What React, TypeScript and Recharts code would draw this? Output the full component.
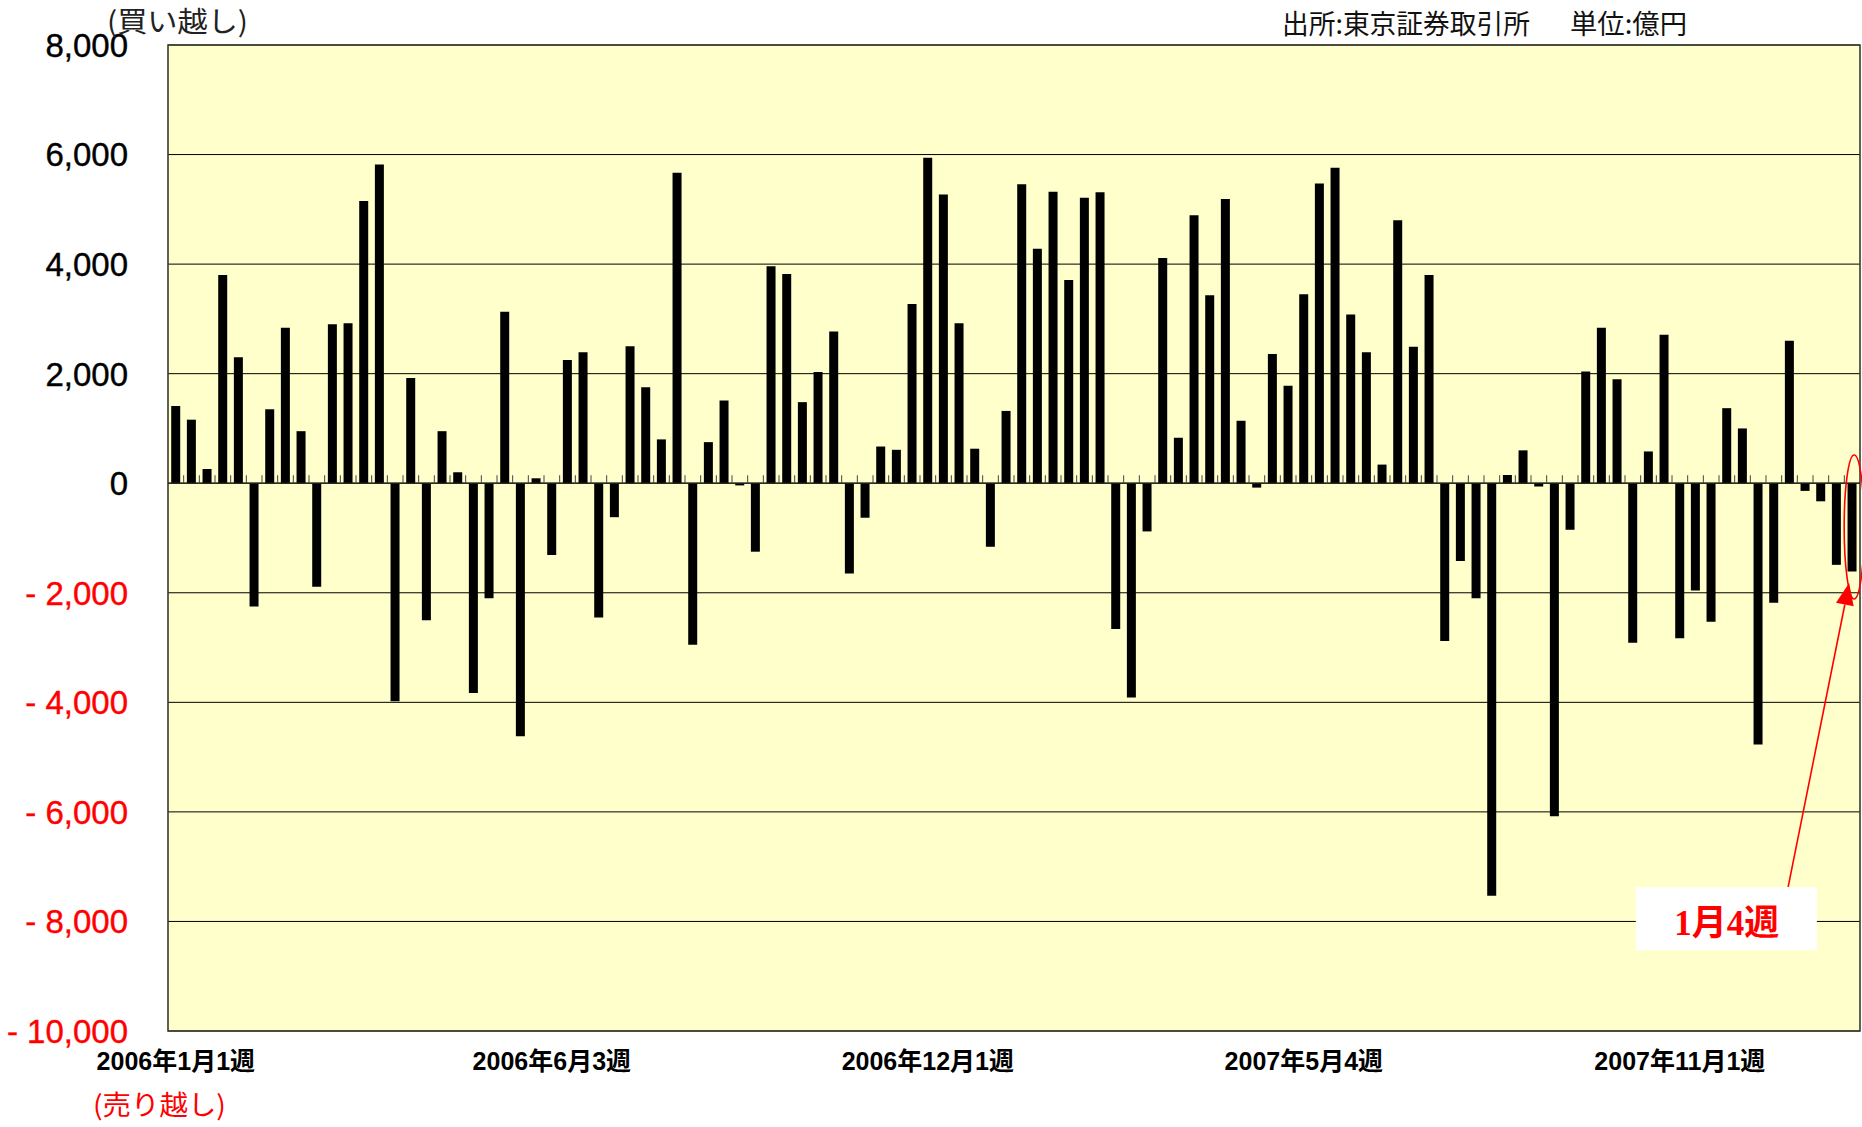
import React from 'react';
import {
  BarChart,
  Bar,
  XAxis,
  YAxis,
  CartesianGrid,
  ReferenceLine,
  ReferenceArea,
  ReferenceDot,
} from 'recharts';

// Weekly net buying (億円), grouped by the labelled segments
const SEG_2006_01W1 = [
  1410, 1160, 260, 3800, 2300, -2250, 1350, 2840, 950, -1890, 2900, 2920,
  5150, 5820, -3980, 1920, -2500, 950, 200, -3830, -2100, 3130, -4620, 90,
];
const SEG_2006_06W3 = [
  -1310, 2250, 2390, -2450, -620, 2500, 1750, 800, 5670, -2950, 750, 1510,
  -40, -1250, 3960, 3820, 1480, 2030, 2770, -1650, -630, 670, 610, 3270,
];
const SEG_2006_12W1 = [
  5940, 5270, 2920, 630, -1160, 1320, 5460, 4280, 5320, 3710, 5210, 5310,
  -2660, -3910, -880, 4110, 830, 4890, 3430, 5190, 1140, -80, 2360, 1780,
];
const SEG_2007_05W4 = [
  3450, 5470, 5760, 3080, 2390, 340, 4800, 2490, 3800, -2880, -1420, -2100,
  -7530, 150, 600, -60, -6080, -850, 2040, 2840, 1900, -2910, 580, 2710,
];
const SEG_2007_11W1 = [
  -2830, -1960, -2530, 1370, 1000, -4770, -2180, 2600, -140, -330, -1490, -1610,
];

const NET = [
  ...SEG_2006_01W1,
  ...SEG_2006_06W3,
  ...SEG_2006_12W1,
  ...SEG_2007_05W4,
  ...SEG_2007_11W1,
];

// category = week number in the series (1-based)
const WEEKS = NET.map((_, i) => i + 1);

const X_TICK_WEEKS = [1, 25, 49, 73, 97];
const X_TICK_LABELS = ['2006年1月1週', '2006年6月3週', '2006年12月1週', '2007年5月4週', '2007年11月1週'];
const Y_TICKS = [8000, 6000, 4000, 2000, 0, -2000, -4000, -6000, -8000, -10000];

const LAST_WEEK = WEEKS[WEEKS.length - 1];
const LAST_VALUE = NET[NET.length - 1];

const data = WEEKS.map((w, i) => ({ week: w, value: NET[i] }));

const SANS = "'Liberation Sans', Arial, 'Noto Sans CJK JP', sans-serif";
const CJK = "'Noto Sans CJK JP', 'Noto Sans', sans-serif";

const fmtY = (v: number) => (v < 0 ? '- ' + Math.abs(v).toLocaleString('en-US') : v.toLocaleString('en-US'));

const YTick = (props: any) => {
  const { x, y, payload } = props;
  const v = payload.value as number;
  return (
    <text
      x={x}
      y={y}
      dy="0.36em"
      textAnchor="end"
      fill={v < 0 ? '#FF0000' : '#000000'}
      fontSize={33}
      fontFamily={SANS}
      stroke={v < 0 ? '#FF0000' : '#000000'}
      strokeWidth={0.4}
    >
      {fmtY(v)}
    </text>
  );
};

const XTick = (props: any) => {
  const { x, y, payload } = props;
  const idx = X_TICK_WEEKS.indexOf(payload.value);
  return (
    <text
      x={x}
      y={y}
      dy="0.71em"
      textAnchor="middle"
      fill="#000"
      fontSize={25}
      fontWeight="bold"
      fontFamily={SANS}
    >
      {idx >= 0 ? X_TICK_LABELS[idx] : ''}
    </text>
  );
};

const ZeroAxis = (props: any) => {
  const { x1, y1, x2, y2 } = props;
  const n = NET.length;
  const step = (x2 - x1) / n;
  const ticks = [];
  for (let k = 1; k < n; k++) {
    const tx = x1 + k * step;
    ticks.push(<line key={k} x1={tx} x2={tx} y1={y1} y2={y1 - 8} stroke="#444" strokeWidth={1} />);
  }
  return (
    <g>
      <line x1={x1} y1={y1} x2={x2} y2={y2} stroke="#222" strokeWidth={1.3} />
      {ticks}
    </g>
  );
};

const Ellipse = (props: any) => {
  const { cx, cy } = props;
  return <ellipse cx={cx + 2} cy={cy} rx={10} ry={72} fill="none" stroke="#FF0000" strokeWidth={1.6} />;
};

const Arrow = (props: any) => {
  const { cx, cy } = props;
  const tipX = cx - 3;
  const tipY = cy;
  const startX = cx - 64;
  const startY = cy + 304;
  const dx = tipX - startX;
  const dy = tipY - startY;
  const len = Math.sqrt(dx * dx + dy * dy);
  const ux = dx / len;
  const uy = dy / len;
  const headL = 22;
  const headW = 9;
  const bx = tipX - ux * headL;
  const by = tipY - uy * headL;
  const px = -uy;
  const py = ux;
  return (
    <g>
      <line x1={startX} y1={startY} x2={bx} y2={by} stroke="#FF0000" strokeWidth={1.6} />
      <polygon
        points={`${tipX},${tipY} ${bx + px * headW},${by + py * headW} ${bx - px * headW},${by - py * headW}`}
        fill="#FF0000"
      />
    </g>
  );
};

const NoteBox = (props: any) => {
  const { cx, cy } = props;
  return (
    <g>
      <rect x={cx - 91} y={cy - 31} width={181} height={63} fill="#FFFFFF" />
      <text
        x={cx}
        y={cy + 17}
        textAnchor="middle"
        fill="#FF0000"
        fontSize={35}
        fontWeight="bold"
        fontFamily="'Liberation Serif', 'Times New Roman', 'Noto Sans CJK JP', serif"
      >
        1月4週
      </text>
    </g>
  );
};

export default function App() {
  return (
    <div style={{ position: 'absolute', left: 0, top: 0, width: 1862, height: 1127, background: '#fff' }}>
      <BarChart
        width={1862}
        height={1127}
        data={data}
        margin={{ top: 45, right: 2, left: 0, bottom: 66 }}
        barCategoryGap="20.5%"
      >
        <CartesianGrid vertical={false} stroke="#000" strokeWidth={1} fill="#FFFFCC" fillOpacity={1} />
        <XAxis
          dataKey="week"
          type="category"
          ticks={X_TICK_WEEKS}
          interval={0}
          tick={<XTick />}
          tickLine={false}
          axisLine={false}
          tickSize={0}
          tickMargin={21}
          height={30}
        />
        <YAxis
          type="number"
          domain={[-10000, 8000]}
          ticks={Y_TICKS}
          interval={0}
          width={168}
          allowDataOverflow
          axisLine={false}
          tickLine={false}
          tickSize={0}
          tickMargin={40}
          tick={<YTick />}
        />
        <Bar dataKey="value" fill="#000000" isAnimationActive={false} />
        <ReferenceLine y={0} shape={ZeroAxis} ifOverflow="visible" />
        <ReferenceArea
          y1={-10000}
          y2={8000}
          fill="none"
          fillOpacity={0}
          stroke="#3a3a30"
          strokeWidth={1.6}
          ifOverflow="visible"
        />
        <ReferenceDot x={LAST_WEEK} y={-800} shape={Ellipse} ifOverflow="visible" />
        <ReferenceDot x={LAST_WEEK} y={LAST_VALUE - 210} shape={Arrow} ifOverflow="visible" />
        <ReferenceDot x={100} y={-7940} shape={NoteBox} ifOverflow="visible" />
      </BarChart>
      <svg
        width={1862}
        height={1127}
        style={{ position: 'absolute', left: 0, top: 0, pointerEvents: 'none' }}
      >
        <text x={107} y={32} fontSize={28} fill="#222" fontFamily={CJK} textLength={141} lengthAdjust="spacingAndGlyphs">
          (買い越し)
        </text>
        <text x={1282} y={34} fontSize={27} fill="#111" fontFamily={CJK} textLength={248} lengthAdjust="spacingAndGlyphs">
          出所:東京証券取引所
        </text>
        <text x={1570} y={34} fontSize={27} fill="#111" fontFamily={CJK} textLength={117} lengthAdjust="spacingAndGlyphs">
          単位:億円
        </text>
        <text x={93} y={1115} fontSize={27} fill="#FF0000" fontFamily={CJK} textLength={133} lengthAdjust="spacingAndGlyphs">
          (売り越し)
        </text>
      </svg>
    </div>
  );
}
